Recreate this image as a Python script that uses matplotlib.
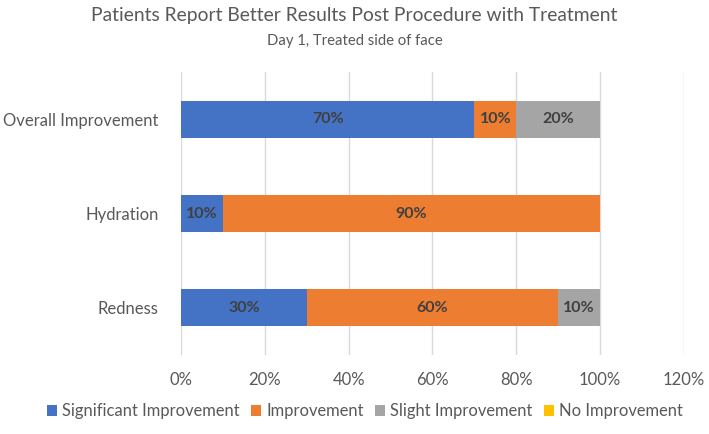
import matplotlib.pyplot as plt
import numpy as np
from matplotlib.ticker import PercentFormatter

plt.rcParams['font.family'] = ['Lato', 'DejaVu Sans']

categories = ['Redness', 'Hydration', 'Overall Improvement']
series = ['Significant Improvement', 'Improvement', 'Slight Improvement', 'No Improvement']
significant = [30, 10, 70]
improvement = [60, 90, 10]
slight = [10, 0, 20]
none_ = [0, 0, 0]
colors = ['#4472C4', '#ED7D31', '#A5A5A5', '#FFC000']

fig = plt.figure(figsize=(7.09, 4.34), dpi=100)
ax = fig.add_axes([0.2553, 0.182, 0.7094, 0.652])

y = np.arange(len(categories))
left = np.zeros(len(categories))
for name, vals, c in zip(series, [significant, improvement, slight, none_], colors):
    vals = np.array(vals, dtype=float)
    bars = ax.barh(y, vals, left=left, height=0.39, color=c, label=name, zorder=3)
    for b, v in zip(bars, vals):
        if v > 0:
            ax.text(b.get_x() + b.get_width() / 2, b.get_y() + b.get_height() / 2,
                    '%d%%' % v, ha='center', va='center', fontsize=11.5,
                    fontweight='bold', color='#404040', zorder=4)
    left += vals

ax.set_xlim(0, 120)
ax.set_ylim(-0.5, 2.5)
ax.set_xticks(np.arange(0, 121, 20))
ax.xaxis.set_major_formatter(PercentFormatter(decimals=0))
ax.set_yticks(y)
ax.set_yticklabels(categories)
ax.tick_params(length=0, labelsize=12, colors='#595959')
ax.tick_params(axis='x', pad=12)
ax.tick_params(axis='y', pad=16)
ax.grid(axis='x', color='#D9D9D9', linewidth=1, zorder=0)
for s in ax.spines.values():
    s.set_visible(False)

fig.text(0.5, 0.965, 'Patients Report Better Results Post Procedure with Treatment',
         ha='center', va='center', fontsize=13.9, color='#595959')
fig.text(0.5, 0.905, 'Day 1, Treated side of face', ha='center', va='center',
         fontsize=10.7, color='#595959')

fig.legend(loc='center', bbox_to_anchor=(0.515, 0.052), ncol=4, frameon=False,
           fontsize=11.9, handlelength=0.6, handleheight=0.6, handletextpad=0.3,
           columnspacing=0.7, labelcolor='#595959')

fig.savefig('out.png', dpi=100)
